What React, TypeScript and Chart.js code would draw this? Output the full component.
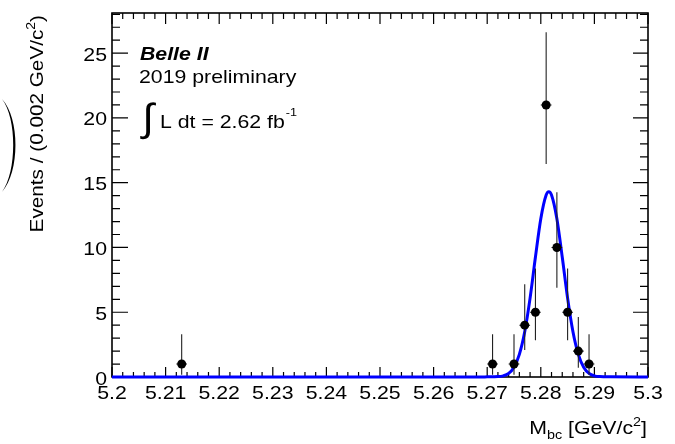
import React, { useEffect, useRef } from 'react';
import { Chart, registerables } from 'chart.js';

Chart.register(...registerables);

// ---------- data ----------
const binCenters = [5.213, 5.271, 5.275, 5.277, 5.279, 5.281, 5.283, 5.285, 5.287, 5.289];
const counts = [1, 1, 1, 4, 5, 21, 10, 5, 2, 1];
const errLow = [0.83, 0.83, 0.83, 1.91, 2.16, 4.55, 3.11, 2.16, 1.29, 0.83];
const errHigh = [2.3, 2.3, 2.3, 3.16, 3.38, 5.62, 4.26, 3.38, 2.64, 2.3];
const binHalfWidth = 0.001;

const curveX = [5.2, 5.268, 5.27, 5.272, 5.273, 5.274, 5.275, 5.276, 5.277, 5.278, 5.279, 5.28, 5.281, 5.2815, 5.282, 5.283, 5.284, 5.285, 5.286, 5.287, 5.288, 5.289, 5.29, 5.291, 5.293, 5.3];
const curveY = [0, 0, 0.01, 0.03, 0.09, 0.28, 0.76, 1.75, 3.49, 6.09, 9.26, 12.22, 14.05, 14.3, 14.05, 12.22, 9.26, 6.09, 3.49, 1.75, 0.76, 0.28, 0.09, 0.03, 0.01, 0];

const xTickValues = [5.2, 5.21, 5.22, 5.23, 5.24, 5.25, 5.26, 5.27, 5.28, 5.29, 5.3];
const xTickLabels = ['5.2', '5.21', '5.22', '5.23', '5.24', '5.25', '5.26', '5.27', '5.28', '5.29', '5.3'];
const yTickValues = [0, 5, 10, 15, 20, 25];
const yTickLabels = ['0', '5', '10', '15', '20', '25'];
const xMinorStep = 0.002;
const yMinorStep = 1;

const X_MIN = 5.2;
const X_MAX = 5.3;
const Y_MIN = 0;
const Y_MAX = 28.1;

const FAMILY = "'Liberation Sans', Arial, Helvetica, sans-serif";
const SX = 1.15; // horizontal stretch of the reference's text

function stretchText(
  ctx: CanvasRenderingContext2D,
  text: string,
  x: number,
  y: number,
  font: string,
  align: 'left' | 'center' | 'right',
  sx: number
): number {
  ctx.save();
  ctx.font = font;
  const w = ctx.measureText(text).width * sx;
  let x0 = x;
  if (align === 'center') x0 = x - w / 2;
  else if (align === 'right') x0 = x - w;
  ctx.translate(x0, y);
  ctx.scale(sx, 1);
  ctx.textAlign = 'left';
  ctx.textBaseline = 'alphabetic';
  ctx.fillText(text, 0, 0);
  ctx.restore();
  return w;
}

const framePlugin = {
  id: 'rootFrame',
  beforeDatasetsDraw(chart: any) {
    const ctx: CanvasRenderingContext2D = chart.ctx;
    const xs = chart.scales.x;
    const ys = chart.scales.y;
    const { left, right, top, bottom } = chart.chartArea;
    ctx.save();
    ctx.fillStyle = '#000';
    ctx.strokeStyle = '#000';

    // frame
    ctx.lineWidth = 1.6;
    ctx.strokeRect(left, top, right - left, bottom - top);

    // ticks
    ctx.lineWidth = 1.2;
    ctx.beginPath();
    const nx = Math.round((X_MAX - X_MIN) / xMinorStep);
    for (let i = 0; i <= nx; i++) {
      const v = X_MIN + i * xMinorStep;
      const px = xs.getPixelForValue(v);
      const major = i % 5 === 0;
      const lb = major ? 10 : 5;
      const lt = major ? 11 : 6;
      ctx.moveTo(px, bottom);
      ctx.lineTo(px, bottom - lb);
      ctx.moveTo(px, top);
      ctx.lineTo(px, top + lt);
    }
    const ny = Math.floor((Y_MAX - Y_MIN) / yMinorStep);
    for (let i = 0; i <= ny; i++) {
      const v = Y_MIN + i * yMinorStep;
      const py = ys.getPixelForValue(v);
      const major = i % 5 === 0;
      const ll = major ? 16 : 8;
      const lr = major ? 15 : 8;
      ctx.moveTo(left, py);
      ctx.lineTo(left + ll, py);
      ctx.moveTo(right, py);
      ctx.lineTo(right - lr, py);
    }
    ctx.stroke();

    // tick labels
    const labFont = `18.5px ${FAMILY}`;
    xTickValues.forEach((v, i) => {
      stretchText(ctx, xTickLabels[i], xs.getPixelForValue(v), 399, labFont, 'center', SX);
    });
    yTickValues.forEach((v, i) => {
      stretchText(ctx, yTickLabels[i], left - 5, ys.getPixelForValue(v) + 7.5, labFont, 'right', SX);
    });

    // x title: M_bc [GeV/c^2]
    {
      const big = `18.5px ${FAMILY}`;
      const small = `12.5px ${FAMILY}`;
      const parts = [
        { t: 'M', f: big, dy: 0 },
        { t: 'bc', f: small, dy: 4.5 },
        { t: ' [GeV/c', f: big, dy: 0 },
        { t: '2', f: small, dy: -8 },
        { t: ']', f: big, dy: 0 },
      ];
      let total = 0;
      parts.forEach((p) => {
        ctx.font = p.f;
        total += ctx.measureText(p.t).width * SX;
      });
      let x = 647 - total;
      parts.forEach((p) => {
        x += stretchText(ctx, p.t, x, 434 + p.dy, p.f, 'left', SX);
      });
    }

    // y title (rotated)
    {
      const big = `18.5px ${FAMILY}`;
      const small = `12.5px ${FAMILY}`;
      const parts = [
        { t: 'Events / (0.002 GeV/c', f: big, dy: 0 },
        { t: '2', f: small, dy: -8 },
        { t: ')', f: big, dy: 0 },
      ];
      const sl = 1.12;
      let total = 0;
      parts.forEach((p) => {
        ctx.font = p.f;
        total += ctx.measureText(p.t).width * sl;
      });
      ctx.save();
      ctx.translate(43, 15);
      ctx.rotate(-Math.PI / 2);
      let x = -total;
      parts.forEach((p) => {
        x += stretchText(ctx, p.t, x, p.dy, p.f, 'left', sl);
      });
      ctx.restore();
    }

    // stray large parenthesis at the left edge
    ctx.beginPath();
    ctx.moveTo(2, 99);
    ctx.bezierCurveTo(20, 118, 20, 172, 2, 192);
    ctx.bezierCurveTo(17, 172, 17, 118, 2, 99);
    ctx.fill();

    // annotations
    stretchText(ctx, 'Belle II', 140, 60, `italic bold 18.5px ${FAMILY}`, 'left', SX);
    stretchText(ctx, '2019 preliminary', 139, 82.5, `18.5px ${FAMILY}`, 'left', SX);
    // integral sign fitted into its box
    {
      ctx.save();
      ctx.font = `40px ${FAMILY}`;
      const m = ctx.measureText('\u222B');
      const bw = m.actualBoundingBoxLeft + m.actualBoundingBoxRight;
      const bh = m.actualBoundingBoxAscent + m.actualBoundingBoxDescent;
      const sxI = 17 / bw;
      const syI = 38 / bh;
      ctx.translate(140 + m.actualBoundingBoxLeft * sxI, 102 + m.actualBoundingBoxAscent * syI);
      ctx.scale(sxI, syI);
      ctx.textAlign = 'left';
      ctx.textBaseline = 'alphabetic';
      ctx.fillText('\u222B', 0, 0);
      ctx.restore();
    }
    const w = stretchText(ctx, 'L dt = 2.62 fb', 160, 128, `18.5px ${FAMILY}`, 'left', SX);
    stretchText(ctx, '-1', 160 + w + 1, 116, `11px ${FAMILY}`, 'left', SX);

    ctx.restore();
  },
  afterDatasetDraw(chart: any, args: any) {
    if (args.index !== 1) return;
    const ctx: CanvasRenderingContext2D = chart.ctx;
    const xs = chart.scales.x;
    const ys = chart.scales.y;
    ctx.save();
    ctx.strokeStyle = '#222';
    ctx.lineWidth = 1.1;
    ctx.beginPath();
    binCenters.forEach((xv, i) => {
      const px = xs.getPixelForValue(xv);
      const py = ys.getPixelForValue(counts[i]);
      ctx.moveTo(px, ys.getPixelForValue(counts[i] - errLow[i]));
      ctx.lineTo(px, ys.getPixelForValue(counts[i] + errHigh[i]));
      ctx.moveTo(xs.getPixelForValue(xv - binHalfWidth), py);
      ctx.lineTo(xs.getPixelForValue(xv + binHalfWidth), py);
    });
    ctx.stroke();
    ctx.restore();
  },
};

export default function App() {
  const canvasRef = useRef<HTMLCanvasElement | null>(null);

  useEffect(() => {
    document.body.style.margin = '0';
    const canvas = canvasRef.current;
    if (!canvas) return;
    const chart = new Chart(canvas, {
      type: 'scatter',
      data: {
        datasets: [
          {
            label: 'Data',
            data: binCenters.map((x, i) => ({ x, y: counts[i] })),
            pointRadius: 4.5,
            pointHoverRadius: 4.5,
            pointBackgroundColor: '#000',
            pointBorderColor: '#000',
            pointBorderWidth: 0,
            showLine: false,
            clip: false,
          },
          {
            label: 'Fit',
            data: curveX.map((x, i) => ({ x, y: curveY[i] })),
            showLine: true,
            borderColor: '#0000ff',
            borderWidth: 3,
            pointRadius: 0,
            pointHoverRadius: 0,
            cubicInterpolationMode: 'monotone',
            fill: false,
            clip: false,
          },
        ],
      } as any,
      options: {
        responsive: false,
        animation: false,
        devicePixelRatio: 1,
        layout: { padding: { left: 112, right: 27, top: 13, bottom: 67 } },
        scales: {
          x: { type: 'linear', min: X_MIN, max: X_MAX, display: false },
          y: { type: 'linear', min: Y_MIN, max: Y_MAX, display: false },
        },
        plugins: {
          legend: { display: false },
          tooltip: { enabled: false },
        },
        events: [],
      } as any,
      plugins: [framePlugin],
    });
    return () => chart.destroy();
  }, []);

  return (
    <div style={{ position: 'absolute', left: 0, top: 0, width: 675, height: 444, background: '#fff' }}>
      <canvas ref={canvasRef} width={675} height={444} style={{ display: 'block' }} />
    </div>
  );
}
